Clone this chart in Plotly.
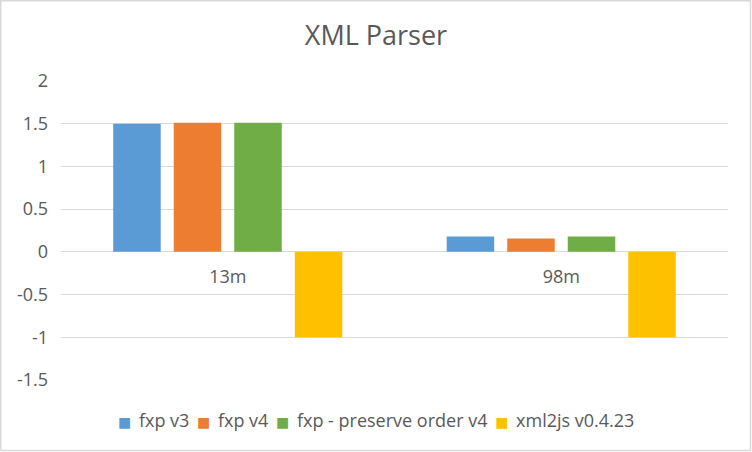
import plotly.graph_objects as go

categories = ["13m", "98m"]
series_names = ["fxp v3", "fxp v4", "fxp - preserve order v4", "xml2js v0.4.23"]
fxp_v3 = [1.5, 0.18]
fxp_v4 = [1.51, 0.155]
fxp_preserve_v4 = [1.51, 0.18]
xml2js = [-1.0, -1.0]
colors = ["#5B9BD5", "#ED7D31", "#70AD47", "#FFC000"]
y_ticks = [-1.5, -1, -0.5, 0, 0.5, 1, 1.5, 2]

W, H = 752, 452
ML, MR, MT, MB = 61, 24, 81, 72
FONT = "Open Sans"
GRAY = "#595959"
FS = 18

fig = go.Figure()
for name, vals, col in zip(series_names, [fxp_v3, fxp_v4, fxp_preserve_v4, xml2js], colors):
    fig.add_trace(go.Bar(x=categories, y=vals, name=name, showlegend=False,
                         marker=dict(color=col, line=dict(width=0))))

ymin, ymax = -1.5, 2
zero_pos = (0 - ymin) / (ymax - ymin)
pw = W - ML - MR
ph = H - MT - MB

GAP = " \u2009"
legend_text = GAP.join(
    f"<span style='font-family:DejaVu Sans;font-size:14px;color:{c}'>■</span>{GAP}{n}"
    for n, c in zip(series_names, colors)
)

fig.update_layout(
    width=W, height=H,
    margin=dict(l=ML, r=MR, t=MT, b=MB),
    paper_bgcolor="white", plot_bgcolor="white",
    barmode="group", bargap=0.274, bargroupgap=0.215,
    font=dict(family=FONT, color=GRAY, size=FS),
    title=dict(text="XML Parser", x=0.5, xref="container", xanchor="center", y=1 - 36 / H, yanchor="middle",
               font=dict(size=27, color=GRAY, family=FONT)),
    showlegend=False,
    annotations=[dict(text=legend_text, xref="paper", yref="paper",
                      x=(W / 2 - ML) / pw, xanchor="center",
                      y=-(420 - (MT + ph)) / ph, yanchor="middle",
                      showarrow=False, font=dict(size=FS, color=GRAY, family=FONT))],
    xaxis=dict(anchor="free", position=zero_pos,
               showline=False, showgrid=False, zeroline=False, ticks="",
               tickfont=dict(size=FS, color=GRAY), ticklabelstandoff=12),
    yaxis=dict(range=[ymin, ymax], tickvals=y_ticks, ticktext=[("%g" % v) for v in y_ticks],
               showgrid=True, gridcolor="#D9D9D9", gridwidth=1.3, zeroline=False, showline=False,
               ticks="", tickfont=dict(size=FS, color=GRAY), ticklabelstandoff=12),
    shapes=[dict(type="rect", xref="paper", yref="paper",
                 x0=-(ML - 0.75) / pw, x1=1 + (MR - 1.5) / pw,
                 y0=-(MB - 1.5) / ph, y1=1 + (MT - 0.75) / ph,
                 line=dict(color="#D9D9D9", width=1.5), fillcolor="rgba(0,0,0,0)", layer="below")],
)

fig.write_html("out.html", config={"displayModeBar": False},
               post_script="document.body.style.margin='0';document.body.style.overflow='hidden';")
